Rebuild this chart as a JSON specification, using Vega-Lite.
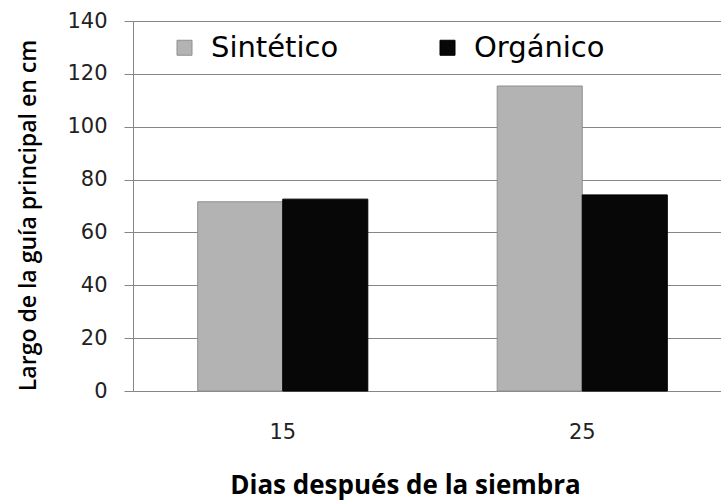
{
  "$schema": "https://vega.github.io/schema/vega-lite/v6.json",
  "autosize": "none",
  "width": 588,
  "height": 370,
  "padding": {"left": 133, "top": 21, "right": 0, "bottom": 110},
  "background": "white",
  "data": {
    "values": [
      {"dias": "15", "tipo": "Sintético", "largo": 71.6},
      {"dias": "15", "tipo": "Orgánico", "largo": 72.6},
      {"dias": "25", "tipo": "Sintético", "largo": 115.4},
      {"dias": "25", "tipo": "Orgánico", "largo": 74.2}
    ]
  },
  "config": {
    "view": {"stroke": null},
    "font": "Open Sans"
  },
  "mark": {"type": "bar", "strokeWidth": 1},
  "encoding": {
    "x": {
      "field": "dias",
      "type": "nominal",
      "scale": {"range": [0, 599], "paddingInner": 0.432, "paddingOuter": 0.216},
      "axis": {
        "title": "Dias después de la siembra",
        "labelAngle": 0,
        "labelFont": "DejaVu Sans",
        "labelFontSize": 21,
        "labelColor": "#222222",
        "labelPadding": 30,
        "ticks": false,
        "domain": false,
        "titleFontSize": 26,
        "titleFontWeight": "bold",
        "titleColor": "#000000",
        "titleX": 272,
        "titleY": 94,
        "titleAlign": "center",
        "titleBaseline": "middle"
      }
    },
    "xOffset": {"field": "tipo", "sort": ["Sintético", "Orgánico"]},
    "y": {
      "field": "largo",
      "type": "quantitative",
      "scale": {"domain": [0, 140]},
      "axis": {
        "title": "Largo de la guía principal en cm",
        "values": [0, 20, 40, 60, 80, 100, 120, 140],
        "labelFont": "DejaVu Sans",
        "labelFontSize": 21,
        "labelColor": "#222222",
        "labelPadding": 17,
        "tickSize": 9,
        "tickColor": "#868686",
        "domainColor": "#868686",
        "gridColor": "#868686",
        "gridWidth": 1.2,
        "titleFontSize": 23,
        "titleFontWeight": 600,
        "titleColor": "#000000",
        "titleX": -105,
        "titleY": 194,
        "titleAlign": "center",
        "titleBaseline": "middle"
      }
    },
    "color": {
      "field": "tipo",
      "type": "nominal",
      "sort": ["Sintético", "Orgánico"],
      "scale": {"domain": ["Sintético", "Orgánico"], "range": ["#b3b3b3", "#070707"]},
      "legend": {
        "title": null,
        "orient": "none",
        "direction": "horizontal",
        "legendX": 37,
        "legendY": 12,
        "symbolType": "square",
        "symbolSize": 225,
        "symbolStrokeWidth": 1,
        "labelFont": "DejaVu Sans",
        "labelFontSize": 29,
        "labelColor": "#000000",
        "labelOffset": 12,
        "columnPadding": 94
      }
    },
    "stroke": {
      "field": "tipo",
      "type": "nominal",
      "scale": {"domain": ["Sintético", "Orgánico"], "range": ["#8f8f8f", "#000000"]},
      "legend": null
    }
  }
}
